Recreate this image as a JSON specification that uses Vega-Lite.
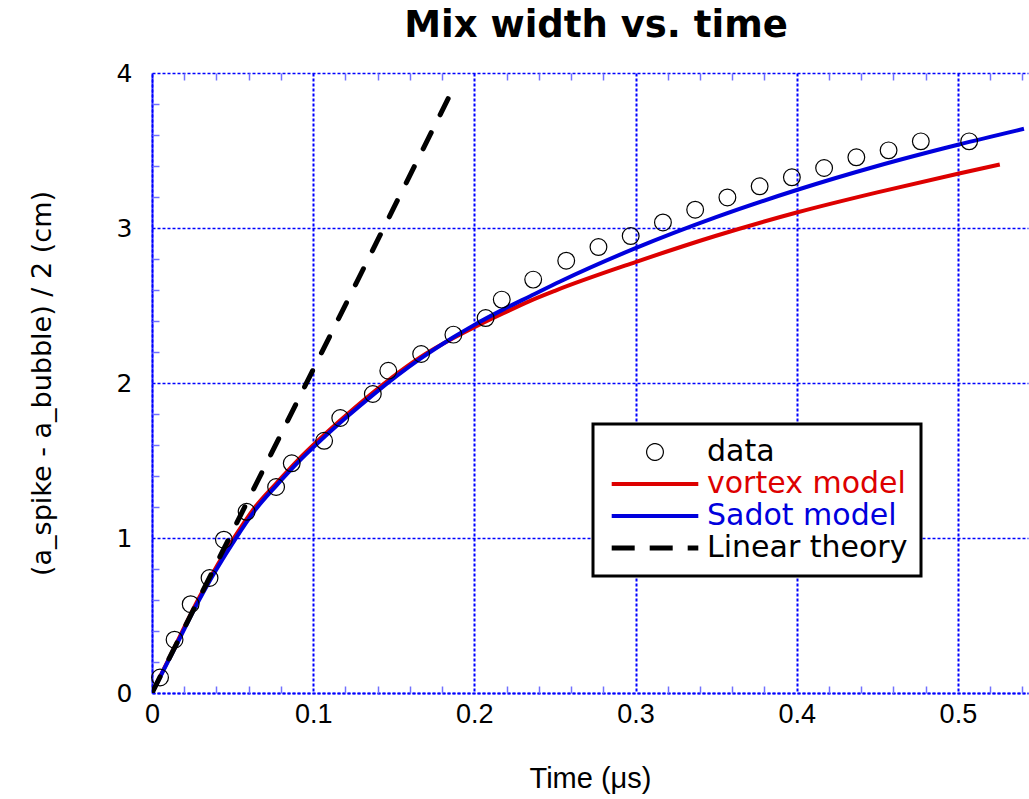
{
  "$schema": "https://vega.github.io/schema/vega-lite/v6.json",
  "autosize": {"type": "none"},
  "padding": {"left": 152, "top": 73, "right": 1, "bottom": 106},
  "width": 876,
  "height": 620,
  "background": "white",
  "config": {"view": {"stroke": null}, "font": "DejaVu Sans", "legend": {"strokeWidth": 3}},
  "title": {"text": "Mix width vs. time", "font": "DejaVu Sans", "fontSize": 37, "fontWeight": "bold", "color": "black", "anchor": "middle", "frame": "group", "offset": 16, "dx": 6},
  "datasets": {
    "vortex": [
      {"t": 0, "w": 0, "series": "vortex model"},
      {"t": 0.0173, "w": 0.365, "series": "vortex model"},
      {"t": 0.0277, "w": 0.585, "series": "vortex model"},
      {"t": 0.037, "w": 0.76, "series": "vortex model"},
      {"t": 0.0515, "w": 1.01, "series": "vortex model"},
      {"t": 0.064, "w": 1.2, "series": "vortex model"},
      {"t": 0.0773, "w": 1.355, "series": "vortex model"},
      {"t": 0.0898, "w": 1.495, "series": "vortex model"},
      {"t": 0.1042, "w": 1.64, "series": "vortex model"},
      {"t": 0.1208, "w": 1.795, "series": "vortex model"},
      {"t": 0.1373, "w": 1.94, "series": "vortex model"},
      {"t": 0.1663, "w": 2.165, "series": "vortex model"},
      {"t": 0.187, "w": 2.29, "series": "vortex model"},
      {"t": 0.2, "w": 2.36, "series": "vortex model"},
      {"t": 0.218, "w": 2.45, "series": "vortex model"},
      {"t": 0.2346, "w": 2.53, "series": "vortex model"},
      {"t": 0.25, "w": 2.595, "series": "vortex model"},
      {"t": 0.3, "w": 2.78, "series": "vortex model"},
      {"t": 0.35, "w": 2.95, "series": "vortex model"},
      {"t": 0.4, "w": 3.1, "series": "vortex model"},
      {"t": 0.45, "w": 3.23, "series": "vortex model"},
      {"t": 0.5, "w": 3.35, "series": "vortex model"},
      {"t": 0.526, "w": 3.41, "series": "vortex model"}
    ],
    "sadot": [
      {"t": 0, "w": 0, "series": "Sadot model"},
      {"t": 0.0173, "w": 0.355, "series": "Sadot model"},
      {"t": 0.0277, "w": 0.57, "series": "Sadot model"},
      {"t": 0.037, "w": 0.745, "series": "Sadot model"},
      {"t": 0.0515, "w": 0.99, "series": "Sadot model"},
      {"t": 0.064, "w": 1.18, "series": "Sadot model"},
      {"t": 0.0773, "w": 1.34, "series": "Sadot model"},
      {"t": 0.0898, "w": 1.48, "series": "Sadot model"},
      {"t": 0.1042, "w": 1.625, "series": "Sadot model"},
      {"t": 0.1208, "w": 1.78, "series": "Sadot model"},
      {"t": 0.1373, "w": 1.925, "series": "Sadot model"},
      {"t": 0.1663, "w": 2.155, "series": "Sadot model"},
      {"t": 0.187, "w": 2.295, "series": "Sadot model"},
      {"t": 0.2, "w": 2.375, "series": "Sadot model"},
      {"t": 0.218, "w": 2.475, "series": "Sadot model"},
      {"t": 0.2346, "w": 2.56, "series": "Sadot model"},
      {"t": 0.2532, "w": 2.655, "series": "Sadot model"},
      {"t": 0.3, "w": 2.87, "series": "Sadot model"},
      {"t": 0.35, "w": 3.07, "series": "Sadot model"},
      {"t": 0.4, "w": 3.245, "series": "Sadot model"},
      {"t": 0.45, "w": 3.4, "series": "Sadot model"},
      {"t": 0.5, "w": 3.537, "series": "Sadot model"},
      {"t": 0.541, "w": 3.64, "series": "Sadot model"}
    ],
    "linear": [
      {"t": 0, "w": 0, "series": "Linear theory"},
      {"t": 0.1864, "w": 3.89, "series": "Linear theory"}
    ],
    "points": [
      {"t": 0.005, "w": 0.1, "series": "data"},
      {"t": 0.014, "w": 0.344, "series": "data"},
      {"t": 0.024, "w": 0.573, "series": "data"},
      {"t": 0.0357, "w": 0.742, "series": "data"},
      {"t": 0.0446, "w": 0.989, "series": "data"},
      {"t": 0.0587, "w": 1.169, "series": "data"},
      {"t": 0.077, "w": 1.329, "series": "data"},
      {"t": 0.0867, "w": 1.482, "series": "data"},
      {"t": 0.1068, "w": 1.627, "series": "data"},
      {"t": 0.1168, "w": 1.774, "series": "data"},
      {"t": 0.137, "w": 1.929, "series": "data"},
      {"t": 0.1466, "w": 2.079, "series": "data"},
      {"t": 0.167, "w": 2.187, "series": "data"},
      {"t": 0.187, "w": 2.312, "series": "data"},
      {"t": 0.207, "w": 2.419, "series": "data"},
      {"t": 0.217, "w": 2.538, "series": "data"},
      {"t": 0.2365, "w": 2.667, "series": "data"},
      {"t": 0.257, "w": 2.789, "series": "data"},
      {"t": 0.277, "w": 2.877, "series": "data"},
      {"t": 0.297, "w": 2.948, "series": "data"},
      {"t": 0.317, "w": 3.036, "series": "data"},
      {"t": 0.337, "w": 3.118, "series": "data"},
      {"t": 0.357, "w": 3.197, "series": "data"},
      {"t": 0.377, "w": 3.269, "series": "data"},
      {"t": 0.397, "w": 3.327, "series": "data"},
      {"t": 0.417, "w": 3.387, "series": "data"},
      {"t": 0.437, "w": 3.456, "series": "data"},
      {"t": 0.457, "w": 3.501, "series": "data"},
      {"t": 0.477, "w": 3.559, "series": "data"},
      {"t": 0.507, "w": 3.559, "series": "data"}
    ]
  },
  "resolve": {"axis": {"x": "independent", "y": "independent"}},
  "layer": [
    {
      "data": {"name": "vortex"},
      "mark": {"type": "line", "strokeWidth": 4, "interpolate": "monotone", "clip": true},
      "encoding": {
        "x": {"field": "t", "type": "quantitative", "scale": {"domain": [0, 0.5435], "nice": false, "zero": false},
          "axis": {"orient": "bottom", "values": [0, 0.1, 0.2, 0.3, 0.4, 0.5], "format": ".1~f", "grid": true, "gridColor": "#0000ff", "gridDash": [3, 2], "gridWidth": 2, "gridOpacity": 1, "ticks": false, "tickSize": 0, "domain": true, "domainColor": "#0000ff", "domainDash": [3, 2], "domainWidth": 2, "labelFont": "Liberation Sans", "labelFontSize": 27, "labelColor": "black", "labelPadding": 8, "labelFlush": false, "labelOverlap": false, "title": "Time (μs)", "titleFont": "Liberation Sans", "titleFontSize": 29, "titleFontWeight": "normal", "titleColor": "black", "titlePadding": 37}},
        "y": {"field": "w", "type": "quantitative", "scale": {"domain": [0, 4], "nice": false},
          "axis": {"orient": "left", "values": [0, 1, 2, 3, 4], "format": "d", "grid": true, "gridColor": "#0000ff", "gridDash": [3, 2], "gridWidth": 1.5, "gridOpacity": 1, "ticks": false, "tickSize": 0, "domain": true, "domainColor": "#0000ff", "domainDash": [3, 2], "domainWidth": 2, "labelFont": "DejaVu Sans", "labelFontSize": 25, "labelColor": "black", "labelPadding": 20, "labelOverlap": false, "title": "(a_spike - a_bubble) / 2   (cm)", "titleFont": "DejaVu Sans", "titleFontSize": 27, "titleFontWeight": "normal", "titleColor": "black", "titlePadding": 60}},
        "color": {"field": "series", "type": "nominal",
          "scale": {"domain": ["data", "vortex model", "Sadot model", "Linear theory"], "range": ["black", "#dd0000", "#0000dd", "black"]},
          "legend": {
            "orient": "none", "legendX": 441, "legendY": 351, "title": null,
            "fillColor": "white", "strokeColor": "black", "padding": 13, "cornerRadius": 0,
            "labelFont": "DejaVu Sans", "labelFontSize": 30, "labelOffset": 37, "symbolOffset": 34, "rowPadding": 2, "labelLimit": 400,
            "labelColor": {"expr": "datum.value == 'vortex model' ? '#dd0000' : datum.value == 'Sadot model' ? '#0000dd' : 'black'"},
            "symbolType": {"expr": "datum.value == 'data' ? 'circle' : 'stroke'"},
            "symbolSize": {"expr": "datum.value == 'data' ? 280 : 7500"},
            "symbolStrokeWidth": {"expr": "datum.value == 'data' ? 1.2 : datum.value == 'Linear theory' ? 5 : 4"},
            "symbolDash": {"expr": "datum.value == 'Linear theory' ? [23, 15] : [1, 0]"},
            "symbolFillColor": "transparent"
          }}
      }
    },
    {
      "data": {"name": "sadot"},
      "mark": {"type": "line", "strokeWidth": 4, "interpolate": "monotone", "clip": true},
      "encoding": {
        "x": {"field": "t", "type": "quantitative",
          "axis": {"orient": "bottom", "values": [0.02, 0.04, 0.06, 0.08, 0.12, 0.14, 0.16, 0.18, 0.22, 0.24, 0.26, 0.28, 0.32, 0.34, 0.36, 0.38, 0.42, 0.44, 0.46, 0.48, 0.52, 0.54], "labels": false, "grid": false, "domain": false, "ticks": true, "tickSize": -7, "tickColor": "#7070ff", "tickWidth": 1.5, "title": null}},
        "y": {"field": "w", "type": "quantitative",
          "axis": {"orient": "left", "values": [0.2, 0.4, 0.6, 0.8, 1.2, 1.4, 1.6, 1.8, 2.2, 2.4, 2.6, 2.8, 3.2, 3.4, 3.6, 3.8], "labels": false, "grid": false, "domain": false, "ticks": true, "tickSize": -7, "tickColor": "#7070ff", "tickWidth": 1.5, "title": null}},
        "color": {"field": "series", "type": "nominal"}
      }
    },
    {
      "data": {"name": "linear"},
      "mark": {"type": "line", "strokeWidth": 5, "strokeDash": [18, 20], "strokeCap": "round", "clip": true},
      "encoding": {
        "x": {"field": "t", "type": "quantitative",
          "axis": {"orient": "top", "values": [0.02, 0.04, 0.06, 0.08, 0.12, 0.14, 0.16, 0.18, 0.22, 0.24, 0.26, 0.28, 0.32, 0.34, 0.36, 0.38, 0.42, 0.44, 0.46, 0.48, 0.52, 0.54], "labels": false, "grid": false, "domain": false, "ticks": true, "tickSize": -7, "tickColor": "#7070ff", "tickWidth": 1.5, "title": null}},
        "y": {"field": "w", "type": "quantitative", "axis": null},
        "color": {"field": "series", "type": "nominal"}
      }
    },
    {
      "data": {"name": "points"},
      "mark": {"type": "point", "shape": "circle", "filled": false, "size": 280, "strokeWidth": 1.2, "opacity": 1},
      "encoding": {
        "x": {"field": "t", "type": "quantitative", "axis": null},
        "y": {"field": "w", "type": "quantitative", "axis": null},
        "color": {"field": "series", "type": "nominal"}
      }
    }
  ]
}
